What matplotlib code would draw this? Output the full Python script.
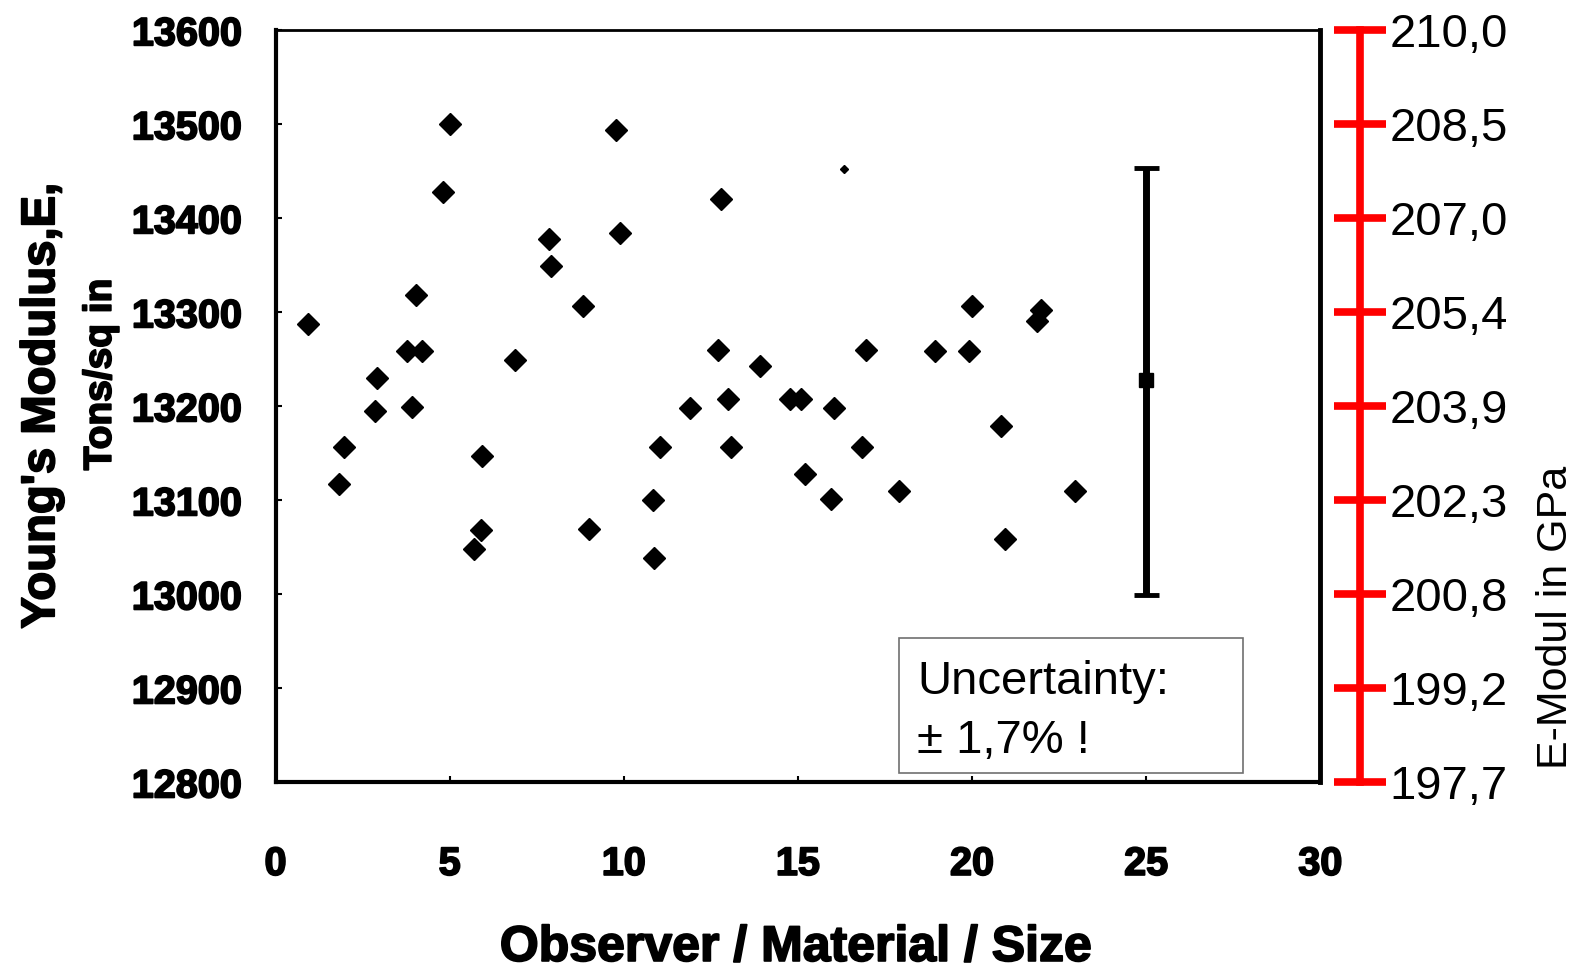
import matplotlib
matplotlib.use("Agg")
import matplotlib.pyplot as plt
import matplotlib.patheffects as pe
from matplotlib.patches import Rectangle

# ---------------- data ----------------
obs_x = [0.94, 1.95, 1.82, 2.91, 2.84, 3.77, 4.20, 4.03, 3.91, 5.01, 4.82, 5.92,
         5.90, 5.71, 6.86, 7.85, 7.91, 8.84, 8.99, 9.77, 9.90, 10.83, 10.86, 11.03,
         11.89, 12.79, 12.71, 13.00, 13.08, 13.90, 14.78, 15.10, 15.21, 15.95,
         16.03, 16.84, 16.94, 17.90, 18.94, 19.90, 20.00, 20.84, 20.94, 21.85,
         21.97, 22.95]
obs_e = [13288, 13157, 13117, 13230, 13195, 13259, 13259, 13318, 13199, 13500,
         13428, 13147, 13068, 13048, 13249, 13378, 13349, 13307, 13070, 13494,
         13384, 13100, 13039, 13157, 13198, 13421, 13260, 13208, 13157, 13243,
         13208, 13208, 13128, 13101, 13198, 13157, 13260, 13110, 13259, 13259,
         13307, 13179, 13059, 13291, 13302, 13110]
stray_x = [16.33]
stray_e = [13453]

mean_x = [25]
mean_e = [13228]
err_low = [229]
err_high = [226]

x_ticks = [0, 5, 10, 15, 20, 25, 30]
y_ticks = [12800, 12900, 13000, 13100, 13200, 13300, 13400, 13500, 13600]
gpa_labels = ["197,7", "199,2", "200,8", "202,3", "203,9", "205,4",
              "207,0", "208,5", "210,0"]

heavy = [pe.withStroke(linewidth=1.3, foreground="black")]

# ---------------- figure ----------------
fig = plt.figure(figsize=(15.83, 9.68), dpi=100)
ax = fig.add_axes([0.1741, 0.1917, 0.660, 0.777])

ax.plot(obs_x, obs_e, linestyle="none", marker="D", ms=11.5, color="black")
ax.plot(stray_x, stray_e, linestyle="none", marker="D", ms=4, color="black")
ax.errorbar(mean_x, mean_e, yerr=[err_low, err_high], fmt="s", ms=10,
            color="black", elinewidth=5, capsize=9, capthick=3.5)

ax.set_xlim(0, 30)
ax.set_ylim(12800, 13600)
ax.set_xticks(x_ticks)
ax.set_yticks(y_ticks)
ax.set_xticklabels([str(v) for v in x_ticks])
ax.set_yticklabels([str(v) for v in y_ticks])
ax.tick_params(axis="x", direction="in", length=4, width=1.5, pad=45)
ax.tick_params(axis="y", direction="in", length=4, width=1.5, pad=24)
for lab in ax.get_xticklabels() + ax.get_yticklabels():
    lab.set_fontfamily("Liberation Sans")
    lab.set_fontsize(28.5)
    lab.set_fontweight("bold")
    lab.set_path_effects(heavy)

for side, lw in (("left", 3), ("bottom", 3), ("right", 3.5), ("top", 2)):
    ax.spines[side].set_linewidth(lw)
    ax.spines[side].set_color("black")

ax.set_xlabel("Observer / Material / Size", fontsize=36, fontweight="bold",
              family="Liberation Sans", path_effects=heavy)
ax.xaxis.set_label_coords(0.498, -0.220)
ax.xaxis.label.set_va("center")

ax.text(-0.2234, 0.5007, "Young's Modulus,E,", rotation=90, transform=ax.transAxes,
        ha="center", va="center", fontsize=34, fontweight="bold",
        family="Liberation Sans", path_effects=heavy)
ax.text(-0.1673, 0.5423, "Tons/sq in", rotation=90, transform=ax.transAxes,
        ha="center", va="center", fontsize=28, fontweight="bold",
        family="Liberation Sans", path_effects=heavy)

# uncertainty box
ax.add_patch(Rectangle((0.5967, 0.0121), 0.3288, 0.18, transform=ax.transAxes,
                       facecolor="white", edgecolor="#707070", lw=1.2, zorder=5))
ax.text(0.614, 0.118, "Uncertainty:", transform=ax.transAxes, ha="left",
        va="baseline", fontsize=34, family="Liberation Sans", zorder=6)
ax.text(0.614, 0.039, "\u00b1 1,7% !", transform=ax.transAxes, ha="left",
        va="baseline", fontsize=34, family="Liberation Sans", zorder=6)

# red secondary axis (GPa)
ax2 = ax.twinx()
ax2.set_ylim(12800, 13600)
ax2.set_yticks(y_ticks)
ax2.set_yticklabels(gpa_labels)
for side in ("left", "top", "bottom"):
    ax2.spines[side].set_visible(False)
ax2.spines["right"].set_position(("outward", 28.5))
ax2.spines["right"].set_color("#ff0000")
ax2.spines["right"].set_linewidth(5.5)
ax2.tick_params(axis="y", direction="inout", length=37, width=5.5,
                color="#ff0000", labelcolor="black", pad=2.5)
for lab in ax2.get_yticklabels():
    lab.set_fontfamily("Liberation Sans")
    lab.set_fontsize(34)
ax2.set_ylabel("E-Modul in GPa", fontsize=31, family="Liberation Sans")
ax2.yaxis.set_label_coords(1.2253, 0.2188)
ax2.yaxis.label.set_va("center")
ax2.yaxis.label.set_ha("center")

fig.savefig("out.png", dpi=100)
